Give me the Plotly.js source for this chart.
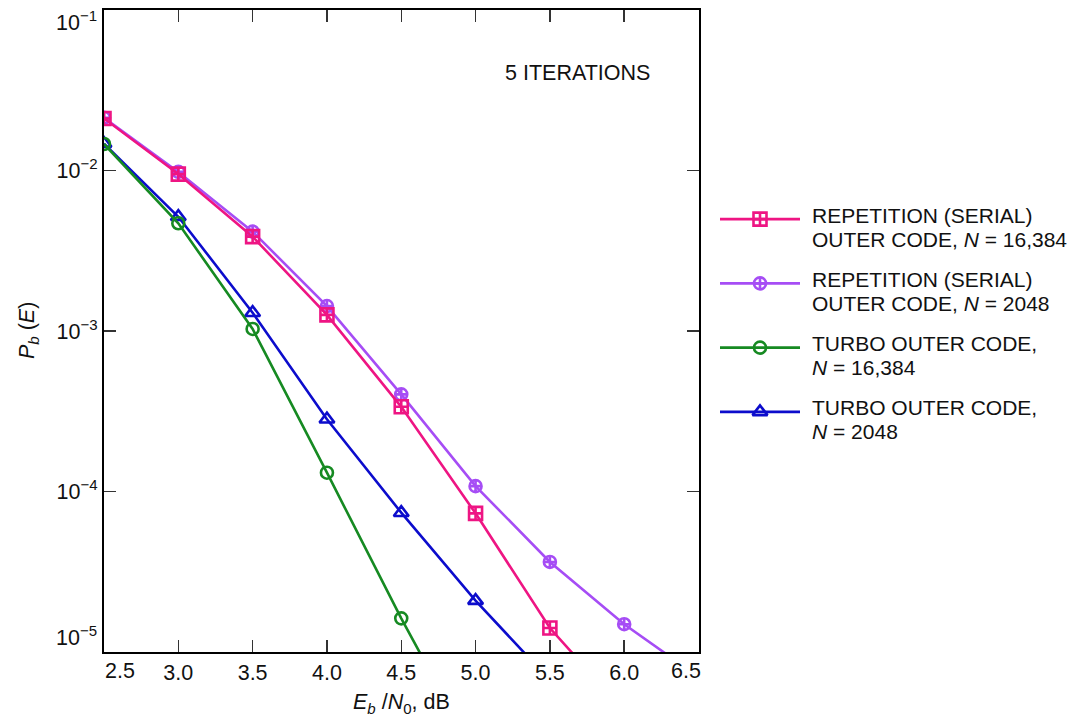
<!DOCTYPE html>
<html>
<head>
<meta charset="utf-8">
<script src="https://cdn.plot.ly/plotly-3.0.1.min.js"></script>
<style>html,body{margin:0;padding:0;background:#fff;}#chart{width:1073px;height:717px;}</style>
</head>
<body>
<div id="chart"></div>
<script>
// ---- data ----
var xRep16k = [2.5, 3.0, 3.5, 4.0, 4.5, 5.0, 5.5, 6.0];
var yRep16k = [0.0211, 0.0095, 0.00387, 0.00126, 3.37e-4, 7.31e-5, 1.41e-5, 4.3e-6];

var xRep2048 = [2.5, 3.0, 3.5, 4.0, 4.5, 5.0, 5.5, 6.0, 6.5];
var yRep2048 = [0.0213, 0.0098, 0.00416, 0.00143, 4.03e-4, 1.08e-4, 3.64e-5, 1.49e-5, 7.0e-6];

var xTurbo16k = [2.5, 3.0, 3.5, 4.0, 4.5, 5.0];
var yTurbo16k = [0.01463, 0.00469, 0.00103, 1.31e-4, 1.62e-5, 2.27e-6];

var xTurbo2048 = [2.5, 3.0, 3.5, 4.0, 4.5, 5.0, 5.5];
var yTurbo2048 = [0.0147, 0.00515, 0.0013, 2.82e-4, 7.38e-5, 2.09e-5, 6.67e-6];

var xTickVals = [3.0, 3.5, 4.0, 4.5, 5.0, 5.5, 6.0];
var xTickText = ['3.0', '3.5', '4.0', '4.5', '5.0', '5.5', '6.0'];
var xEdgeLabels = ['2.5', '6.5'];
var yTickVals = [1e-2, 1e-3, 1e-4];
var yTickText = ['10<sup>\u22122</sup>', '10<sup>\u22123</sup>', '10<sup>\u22124</sup>'];
var yEdgeLabels = ['10<sup>\u22121</sup>', '10<sup>\u22125</sup>'];

var seriesNames = [
  ['REPETITION (SERIAL)', 'OUTER CODE, <i>N</i> = 16,384'],
  ['REPETITION (SERIAL)', 'OUTER CODE, <i>N</i> = 2048'],
  ['TURBO OUTER CODE,', '<i>N</i> = 16,384'],
  ['TURBO OUTER CODE,', '<i>N</i> = 2048']
];
var seriesColors = ['#EE1583', '#A64DF5', '#168A22', '#0C0CCC'];
var seriesSymbols = ['square-cross-open', 'circle-cross-open', 'circle-open', 'triangle-up-open'];
var seriesSizes = [13, 12, 12, 13];

// ---- styling ----
var FONT = 'Liberation Sans, Arial, Helvetica, sans-serif';
var TXT = '#111';
var W = 1073, H = 717;
var ML = 104, MT = 10, MB = 65;
var plotRight = 698.5;
var paperW = W - ML, paperH = H - MT - MB;
function px2x(p) { return (p - ML) / paperW; }
function py2y(p) { return (H - MB - p) / paperH; }

var xs = [xRep16k, xRep2048, xTurbo16k, xTurbo2048];
var ys = [yRep16k, yRep2048, yTurbo16k, yTurbo2048];
var drawOrder = [1, 0, 3, 2];

var traces = [];
drawOrder.forEach(function (i) {
  traces.push({
    x: xs[i], y: ys[i], type: 'scatter', mode: 'lines+markers',
    name: seriesNames[i].join(' '), showlegend: false,
    line: { color: seriesColors[i], width: 2.6 },
    marker: { symbol: seriesSymbols[i], size: seriesSizes[i], color: seriesColors[i], line: { color: seriesColors[i], width: 2.6 } },
    xaxis: 'x', yaxis: 'y', hoverinfo: 'x+y+name'
  });
});

// manual legend (long line samples as in the reference)
var annotations = [];
for (var i = 0; i < 4; i++) {
  traces.push({
    x: [0, 1], y: [i, i], type: 'scatter', mode: 'lines', showlegend: false,
    line: { color: seriesColors[i], width: 2.6 }, xaxis: 'x2', yaxis: 'y2', hoverinfo: 'skip'
  });
  traces.push({
    x: [0.5], y: [i], type: 'scatter', mode: 'markers', showlegend: false,
    marker: { symbol: seriesSymbols[i], size: seriesSizes[i], color: seriesColors[i], line: { color: seriesColors[i], width: 2.6 } },
    xaxis: 'x2', yaxis: 'y2', hoverinfo: 'skip'
  });
  for (var k = 0; k < 2; k++) {
    annotations.push({
      xref: 'paper', yref: 'y2', x: px2x(810), y: i, xanchor: 'left', yanchor: 'middle',
      yshift: k === 0 ? 4 : -20,
      align: 'left', showarrow: false, text: seriesNames[i][k],
      font: { family: FONT, size: 21, color: TXT }
    });
  }
}

// edge tick labels (shifted inward, as in the reference)
annotations.push({ xref: 'paper', yref: 'paper', x: px2x(120), xanchor: 'center', y: 0, yanchor: 'middle', yshift: -19, showarrow: false, text: xEdgeLabels[0], font: { family: FONT, size: 21.5, color: TXT } });
annotations.push({ xref: 'paper', yref: 'paper', x: px2x(686), xanchor: 'center', y: 0, yanchor: 'middle', yshift: -19, showarrow: false, text: xEdgeLabels[1], font: { family: FONT, size: 21.5, color: TXT } });
annotations.push({ xref: 'paper', yref: 'paper', x: 0, xanchor: 'right', xshift: -5, y: py2y(21), yanchor: 'middle', showarrow: false, text: yEdgeLabels[0], font: { family: FONT, size: 21.5, color: TXT } });
annotations.push({ xref: 'paper', yref: 'paper', x: 0, xanchor: 'right', xshift: -5, y: py2y(636), yanchor: 'middle', showarrow: false, text: yEdgeLabels[1], font: { family: FONT, size: 21.5, color: TXT } });

// titles and note
annotations.push({ xref: 'paper', yref: 'paper', x: px2x(401.5), y: py2y(703), xanchor: 'center', yanchor: 'middle', showarrow: false,
  text: '<i>E</i><sub><i>b</i></sub> /<i>N</i><sub>0</sub>, dB', font: { family: FONT, size: 21.5, color: TXT } });
annotations.push({ xref: 'paper', yref: 'paper', x: px2x(28), y: py2y(331), xanchor: 'center', yanchor: 'middle', textangle: -90, showarrow: false,
  text: '<i>P</i><sub><i>b</i></sub> (<i>E</i>)', font: { family: FONT, size: 21.5, color: TXT } });
annotations.push({ xref: 'paper', yref: 'paper', x: px2x(577), y: py2y(73), xanchor: 'center', yanchor: 'middle', showarrow: false,
  text: '5 ITERATIONS', font: { family: FONT, size: 21.5, color: TXT } });

var legTop = 187, legBot = 444;

var layout = {
  width: W, height: H,
  margin: { l: ML, r: 0, t: MT, b: MB, pad: 0 },
  paper_bgcolor: '#fff', plot_bgcolor: '#fff',
  showlegend: false,
  font: { family: FONT, size: 21.5, color: TXT },
  xaxis: {
    domain: [0, (plotRight - ML) / paperW], range: [2.5, 6.5], anchor: 'y',
    tickvals: xTickVals, ticktext: xTickText,
    ticks: 'inside', ticklen: 12, tickwidth: 1.5, tickcolor: '#333',
    showline: true, linewidth: 2, linecolor: '#000', mirror: 'ticks',
    showgrid: false, zeroline: false,
    tickfont: { family: FONT, size: 21.5, color: TXT }
  },
  yaxis: {
    type: 'log', range: [-5, -1], anchor: 'x',
    tickvals: yTickVals, ticktext: yTickText,
    ticks: 'inside', ticklen: 12, tickwidth: 1.5, tickcolor: '#333',
    showline: true, linewidth: 2, linecolor: '#000', mirror: 'ticks',
    showgrid: false, zeroline: false,
    tickfont: { family: FONT, size: 21.5, color: TXT }
  },
  xaxis2: { domain: [px2x(720), px2x(800)], range: [0, 1], anchor: 'y2', visible: false, fixedrange: true },
  yaxis2: { domain: [py2y(legBot), py2y(legTop)], range: [3.5, -0.5], anchor: 'x2', visible: false, fixedrange: true },
  annotations: annotations
};

Plotly.newPlot('chart', traces, layout, { displayModeBar: false, staticPlot: true });
</script>
</body>
</html>
